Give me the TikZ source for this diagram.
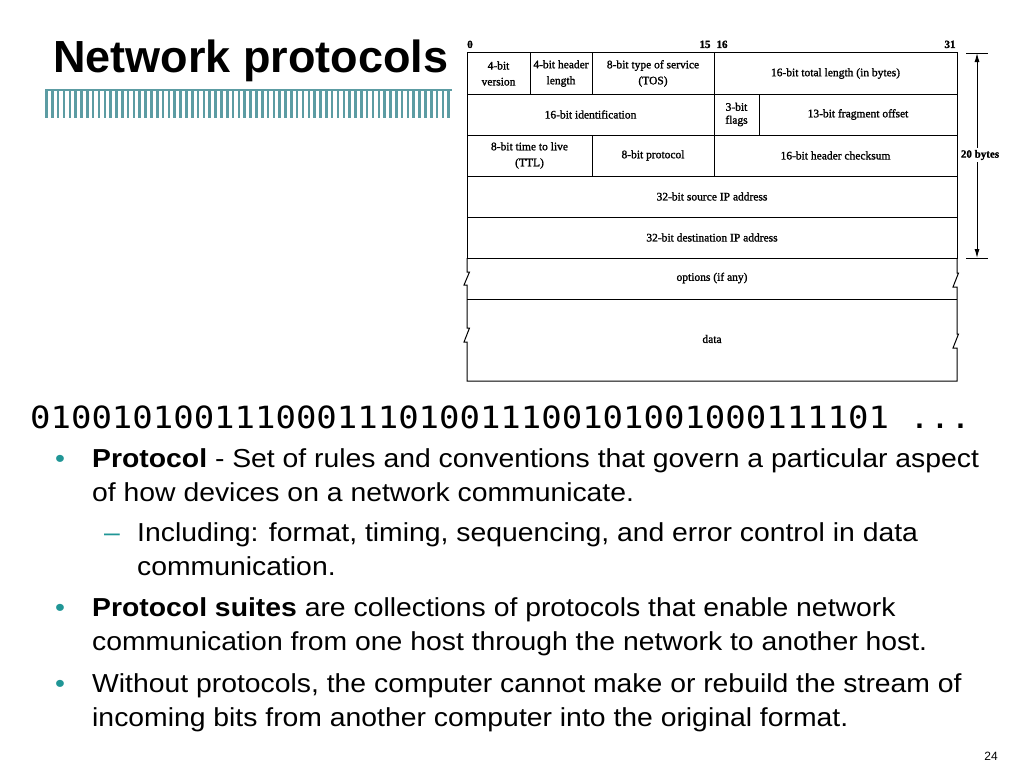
\documentclass[tikz,border=0pt]{standalone}
\usepackage{fontspec}
\setmainfont{Liberation Sans}
\newfontfamily\slidefont[FakeStretch=1.09]{Liberation Sans}
\newfontfamily\bitfont[FakeStretch=1.11]{DejaVu Sans Mono}
\newfontfamily\figfont[FakeBold=1.4]{Liberation Serif}
\usetikzlibrary{positioning, arrows.meta}
\definecolor{BarTeal}{RGB}{92,156,163}
\definecolor{BulletTeal}{RGB}{32,150,150}
\tikzset{Field/.style={%
    draw,%
    line width=1pt,%
    minimum height=41pt,%
    inner sep=0pt,%
    outer sep=0pt,%
    align=center,%
    font=\figfont\fontsize{11.5}{16}\selectfont,%
}}
\tikzset{FieldText/.style={%
    inner sep=0pt,%
    font=\figfont\fontsize{11.5}{16}\selectfont,%
}}
\tikzset{BitMark/.style={%
    anchor=base,%
    inner sep=0pt,%
    font=\figfont\bfseries\fontsize{11}{12}\selectfont,%
}}
\tikzset{Frame/.style={%
    line width=1pt,%
    line join=miter,%
}}
\tikzset{SizeArrow/.style={%
    line width=1pt,%
    -{Latex[length=9pt,width=5pt]},%
}}
\tikzset{BodyText/.style={%
    anchor=base west,%
    align=left,%
    inner sep=0pt,%
    font=\slidefont\fontsize{26}{34}\selectfont,%
}}
\tikzset{Mark/.style={%
    anchor=base,%
    inner sep=0pt,%
    text=BulletTeal,%
    font=\slidefont\fontsize{26}{34}\selectfont,%
}}

\begin{document}
\begin{tikzpicture}[x=1pt, y=-1pt]
    \useasboundingbox (0,0) rectangle (1024,768);

    \node[anchor=base west, inner sep=0pt, font=\bfseries\fontsize{45}{54}\selectfont] (title) at (53,72) {Network protocols};
    \draw[BarTeal, line width=2.5pt] (45,90) -- (452,90);
    \foreach \i in {0,...,69}
        \draw[BarTeal, line width=2.6pt] (46.5+5.83*\i,90) -- ++(0,28);

    \node[BitMark] (b0) at (470,48) {0};
    \node[BitMark] (b15) at (705,48) {15};
    \node[BitMark] (b16) at (722,48) {16};
    \node[BitMark] (b31) at (950,48) {31};

    \node[Field, minimum width=63pt, anchor=north west] (ver) at (467,53) {4-bit\\version};
    \node[Field, minimum width=62pt, right=0pt of ver] (hlen) {4-bit header\\length};
    \node[Field, minimum width=122pt, right=0pt of hlen] (tos) {8-bit type of service\\(TOS)};
    \node[Field, minimum width=243pt, right=0pt of tos] (totlen) {16-bit total length (in bytes)};
    \node[Field, minimum width=247pt, anchor=north west] (ident) at (ver.south west) {16-bit identification};
    \node[Field, minimum width=45pt, right=0pt of ident, font=\figfont\fontsize{11.5}{13}\selectfont] (flags) {3-bit\\flags};
    \node[Field, minimum width=198pt, right=0pt of flags] (frag) {13-bit fragment offset};
    \node[Field, minimum width=125pt, anchor=north west] (ttl) at (ident.south west) {8-bit time to live\\(TTL)};
    \node[Field, minimum width=122pt, right=0pt of ttl] (proto) {8-bit protocol};
    \node[Field, minimum width=243pt, right=0pt of proto] (cksum) {16-bit header checksum};
    \node[Field, minimum width=490pt, anchor=north west] (src) at (ttl.south west) {32-bit source IP address};
    \node[Field, minimum width=490pt, anchor=north west] (dst) at (src.south west) {32-bit destination IP address};
    \node[FieldText] (opts) at (712,278) {options (if any)};
    \node[FieldText] (data) at (712,339) {data};

    \draw[Frame] (dst.south west) -- (467,272) -- (469.5,272) -- (464,285) -- (467,285)
        -- (467,328) -- (469.5,328) -- (464,342) -- (467,342) -- (467,381)
        -- (957,381) -- (957,348) -- (953,348) -- (958.5,334) -- (957,334)
        -- (957,287) -- (953,287) -- (958.5,273) -- (957,273) -- (dst.south east);
    \draw[Frame] (467,299) -- (957,299);

    \coordinate (lenTop) at (977,53);
    \coordinate (lenBot) at (977,258);
    \node[BitMark, anchor=center, fill=white, inner sep=2pt] (bytes) at (980,155) {20 bytes};
    \draw[line width=0.8pt] (966,53) -- (988,53);
    \draw[line width=0.8pt] (966,258) -- (988,258);
    \draw[SizeArrow] (bytes.north -| lenTop) -- (lenTop);
    \draw[SizeArrow] (bytes.south -| lenBot) -- (lenBot);

    \node[anchor=base west, inner sep=0pt, font=\bitfont\fontsize{30.6}{34}\selectfont] (bits) at (30,428) {010010100111000111010011100101001000111101 ...};

    \node[Mark] (m1) at (60,467.5) {•};
    \node[BodyText] (p1) at (92,501.5) {\textbf{Protocol} - Set of rules and conventions that govern a particular aspect\\of how devices on a network communicate.};
    \node[Mark, anchor=base west] (m2) at (104,541.5) {–};
    \node[BodyText] (p2) at (137,575.5) {Including: format, timing, sequencing, and error control in data\\communication.};
    \node[Mark] (m3) at (60,616.5) {•};
    \node[BodyText] (p3) at (92,650.5) {\textbf{Protocol suites} are collections of protocols that enable network\\communication from one host through the network to another host.};
    \node[Mark] (m4) at (60,692.5) {•};
    \node[BodyText] (p4) at (92,726.5) {Without protocols, the computer cannot make or rebuild the stream of\\incoming bits from another computer into the original format.};

    \node[anchor=base east, inner sep=0pt, font=\fontsize{12}{14}\selectfont] (pageno) at (998,760) {24};
\end{tikzpicture}
\end{document}
